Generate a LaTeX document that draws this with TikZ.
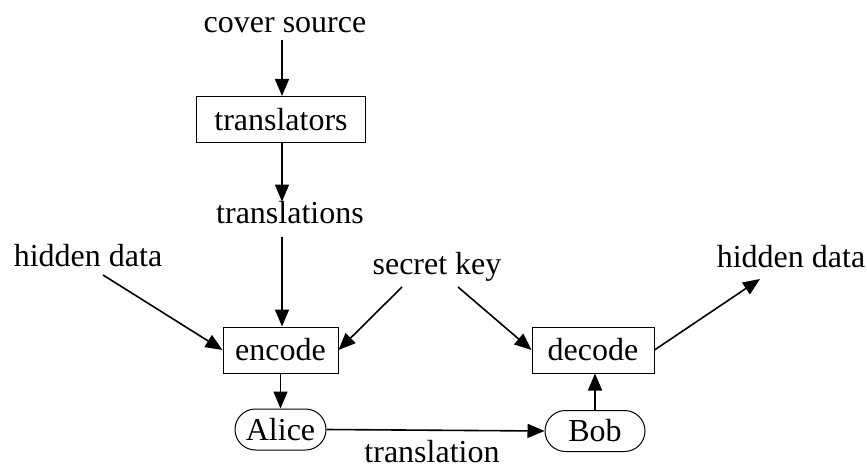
\documentclass[tikz,border=0pt]{standalone}
\usepackage{fontspec}
\setmainfont{Liberation Serif}
\usetikzlibrary{arrows.meta,shapes.misc}
\begin{document}
\begin{tikzpicture}[x=1pt,y=-1pt,
  txt/.style={font=\fontsize{32}{38}\selectfont, inner sep=0pt, anchor=base},
  boxnode/.style={draw, line width=1pt, font=\fontsize{32}{38}\selectfont, minimum height=46pt, inner xsep=4pt, inner ysep=2pt},
  pill/.style={draw, line width=1pt, rounded rectangle, font=\fontsize{32}{38}\selectfont, minimum height=41pt, inner xsep=2pt, inner ysep=1pt},
  arr/.style={line width=1.6pt, -{Triangle[length=17pt,width=14pt]}}
]
\useasboundingbox (0,0) rectangle (867,468);
\node[txt] (cover) at (285,33) {cover source};
\node[boxnode, minimum width=169pt] (trs) at (281,119.5) {translators};
\node[txt] (tns) at (290,223) {translations};
\node[boxnode, minimum width=115pt] (enc) at (280.5,350) {encode};
\node[boxnode, minimum width=122pt] (dec) at (593,350) {decode};
\node[pill, minimum width=95pt] (alice) at (280.5,429.5) {Alice};
\node[pill, minimum width=104pt] (bob) at (595,431) {Bob};
\node[txt] (hdl) at (88,266) {hidden data};
\node[txt] (key) at (437,274) {secret key};
\node[txt] (hdr) at (791,267) {hidden data};
\node[txt] (tlab) at (432,462) {translation};

\coordinate (c1) at (282,40);
\coordinate (c2) at (282,237);
\draw[arr] (c1) -- (trs.north -| c1);
\draw[arr] (trs.south -| c1) -- ([yshift=-1pt]tns.north -| c1);
\draw[arr] (c2) -- (enc.north -| c1);
\draw[arr] (enc.south -| alice) -- (alice.north);
\draw[arr] (alice.east) -- (bob.west);
\draw[arr] (bob.north) -- (dec.south -| bob);
\coordinate (h1) at (103,275);
\draw[arr] (h1) -- (enc.west);
\coordinate (k1) at (402,287);
\draw[arr] (k1) -- (enc.east);
\coordinate (k2) at (458,287);
\draw[arr] (k2) -- (dec.west);
\coordinate (h2) at (760,279);
\draw[arr] (dec.east) -- (h2);
\end{tikzpicture}
\end{document}
